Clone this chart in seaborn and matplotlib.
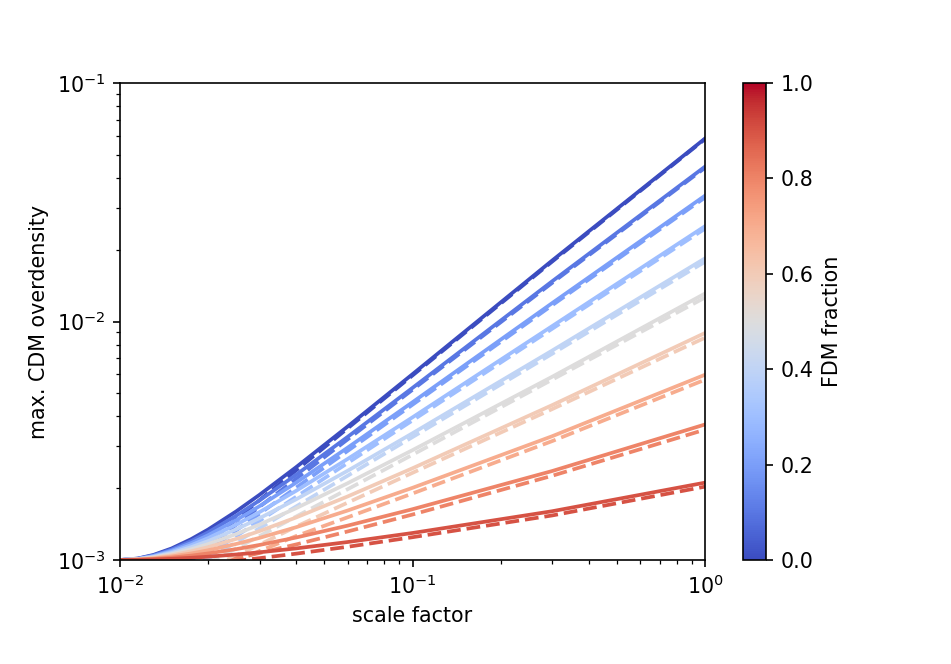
import numpy as np
import pandas as pd
import matplotlib
matplotlib.use("Agg")
import matplotlib.pyplot as plt
import seaborn as sns

# scale factor grid
scale_factor = [0.01, 0.0115, 0.013, 0.015, 0.0175, 0.02, 0.025, 0.03, 0.04, 0.06, 0.1, 0.3, 1.0]
fdm_fraction = [0.0, 0.1, 0.2, 0.3, 0.4, 0.5, 0.6, 0.7, 0.8, 0.9]

# solid curves (max. CDM overdensity)
solid_f00 = [1.0e-3, 1.0144e-3, 1.0499e-3, 1.1177e-3, 1.2228e-3, 1.3414e-3, 1.6012e-3, 1.877e-3, 2.45e-3, 3.627e-3, 6.013e-3, 18.0e-3, 58.5e-3]
solid_f01 = [1.0e-3, 1.0129e-3, 1.0449e-3, 1.1058e-3, 1.1998e-3, 1.3055e-3, 1.5358e-3, 1.7783e-3, 2.2767e-3, 3.2822e-3, 5.2675e-3, 14.73e-3, 44.6e-3]
solid_f02 = [1.0e-3, 1.0115e-3, 1.0399e-3, 1.0939e-3, 1.1769e-3, 1.2701e-3, 1.4715e-3, 1.6821e-3, 2.1102e-3, 2.9576e-3, 4.5861e-3, 11.935e-3, 33.7e-3]
solid_f03 = [1.0e-3, 1.0100e-3, 1.0348e-3, 1.0820e-3, 1.1542e-3, 1.2349e-3, 1.4084e-3, 1.5883e-3, 1.9499e-3, 2.6525e-3, 3.9647e-3, 9.558e-3, 25.1e-3]
solid_f04 = [1.0e-3, 1.0086e-3, 1.0298e-3, 1.0701e-3, 1.1317e-3, 1.2001e-3, 1.3466e-3, 1.4972e-3, 1.7963e-3, 2.3662e-3, 3.3996e-3, 7.548e-3, 18.4e-3]
solid_f05 = [1.0e-3, 1.0072e-3, 1.0249e-3, 1.0583e-3, 1.1094e-3, 1.1659e-3, 1.2860e-3, 1.4084e-3, 1.6489e-3, 2.0980e-3, 2.8877e-3, 5.862e-3, 13.1e-3]
solid_f06 = [1.0e-3, 1.0057e-3, 1.0200e-3, 1.0465e-3, 1.0872e-3, 1.1319e-3, 1.2265e-3, 1.3220e-3, 1.5076e-3, 1.8467e-3, 2.4244e-3, 4.458e-3, 8.95e-3]
solid_f07 = [1.0e-3, 1.0043e-3, 1.0148e-3, 1.0348e-3, 1.0651e-3, 1.0984e-3, 1.1681e-3, 1.2381e-3, 1.3722e-3, 1.6121e-3, 2.0073e-3, 3.302e-3, 5.98e-3]
solid_f08 = [1.0e-3, 1.0029e-3, 1.0099e-3, 1.0232e-3, 1.0432e-3, 1.0652e-3, 1.1110e-3, 1.1565e-3, 1.2425e-3, 1.3933e-3, 1.6329e-3, 2.360e-3, 3.70e-3]
solid_f09 = [1.0e-3, 1.0014e-3, 1.0049e-3, 1.0115e-3, 1.0215e-3, 1.0323e-3, 1.0549e-3, 1.0771e-3, 1.1185e-3, 1.1894e-3, 1.2979e-3, 1.601e-3, 2.11e-3]

# dashed curves
dashed_f00 = [0.594e-3, 0.683e-3, 0.772e-3, 0.891e-3, 1.040e-3, 1.188e-3, 1.485e-3, 1.782e-3, 2.376e-3, 3.564e-3, 5.94e-3, 17.82e-3, 58.2e-3]
dashed_f01 = [0.596e-3, 0.680e-3, 0.763e-3, 0.872e-3, 1.008e-3, 1.143e-3, 1.409e-3, 1.672e-3, 2.190e-3, 3.203e-3, 5.174e-3, 14.51e-3, 44.1e-3]
dashed_f02 = [0.599e-3, 0.677e-3, 0.753e-3, 0.854e-3, 0.977e-3, 1.098e-3, 1.334e-3, 1.564e-3, 2.011e-3, 2.866e-3, 4.478e-3, 11.69e-3, 33.1e-3]
dashed_f03 = [0.603e-3, 0.675e-3, 0.745e-3, 0.836e-3, 0.946e-3, 1.053e-3, 1.261e-3, 1.460e-3, 1.840e-3, 2.550e-3, 3.847e-3, 9.315e-3, 24.5e-3]
dashed_f04 = [0.609e-3, 0.674e-3, 0.737e-3, 0.819e-3, 0.916e-3, 1.010e-3, 1.189e-3, 1.359e-3, 1.677e-3, 2.255e-3, 3.276e-3, 7.316e-3, 17.8e-3]
dashed_f05 = [0.616e-3, 0.675e-3, 0.731e-3, 0.803e-3, 0.888e-3, 0.968e-3, 1.120e-3, 1.261e-3, 1.521e-3, 1.980e-3, 2.762e-3, 5.700e-3, 12.6e-3]
dashed_f06 = [0.624e-3, 0.675e-3, 0.724e-3, 0.785e-3, 0.856e-3, 0.923e-3, 1.046e-3, 1.160e-3, 1.380e-3, 1.740e-3, 2.320e-3, 4.290e-3, 8.55e-3]
dashed_f07 = [0.637e-3, 0.680e-3, 0.720e-3, 0.770e-3, 0.827e-3, 0.881e-3, 0.990e-3, 1.090e-3, 1.260e-3, 1.510e-3, 1.900e-3, 3.150e-3, 5.70e-3]
dashed_f08 = [0.669e-3, 0.702e-3, 0.733e-3, 0.771e-3, 0.814e-3, 0.900e-3, 1.017e-3, 1.070e-3, 1.162e-3, 1.317e-3, 1.551e-3, 2.254e-3, 3.52e-3]
dashed_f09 = [0.736e-3, 0.758e-3, 0.778e-3, 0.802e-3, 0.829e-3, 0.930e-3, 0.992e-3, 1.018e-3, 1.063e-3, 1.136e-3, 1.246e-3, 1.537e-3, 2.03e-3]

solid_curves = [solid_f00, solid_f01, solid_f02, solid_f03, solid_f04,
                solid_f05, solid_f06, solid_f07, solid_f08, solid_f09]
dashed_curves = [dashed_f00, dashed_f01, dashed_f02, dashed_f03, dashed_f04,
                 dashed_f05, dashed_f06, dashed_f07, dashed_f08, dashed_f09]

rows = []
for f, sc, dc in zip(fdm_fraction, solid_curves, dashed_curves):
    for a, ys, yd in zip(scale_factor, sc, dc):
        rows.append({"a": a, "delta": ys, "f": f, "kind": "solid"})
        rows.append({"a": a, "delta": yd, "f": f, "kind": "dashed"})
df = pd.DataFrame(rows)

dpi = 148.6
fig = plt.figure(figsize=(951 / dpi, 664 / dpi), dpi=dpi)
ax = fig.add_axes([120 / 951, 104 / 664, 585 / 951, 477 / 664])
cax = fig.add_axes([743 / 951, 104 / 664, 23 / 951, 477 / 664])

cmap = plt.get_cmap("coolwarm")
for kind, ls in [("dashed", (0, (3.7, 1.6))), ("solid", "-")]:
    sub = df[df["kind"] == kind]
    for f in fdm_fraction:
        g = sub[sub["f"] == f]
        sns.lineplot(data=g, x="a", y="delta", color=cmap(f), linestyle=ls,
                     lw=1.8, ax=ax, legend=False, estimator=None, sort=True)

ax.set_xscale("log")
ax.set_yscale("log")
ax.set_xlim(1e-2, 1e0)
ax.set_ylim(1e-3, 1e-1)
ax.set_xlabel("scale factor")
ax.set_ylabel("max. CDM overdensity")

sm = matplotlib.cm.ScalarMappable(cmap=cmap, norm=matplotlib.colors.Normalize(0, 1))
cb = fig.colorbar(sm, cax=cax)
cb.set_label("FDM fraction")
cb.set_ticks([0.0, 0.2, 0.4, 0.6, 0.8, 1.0])

fig.savefig("out.png", dpi=dpi)
